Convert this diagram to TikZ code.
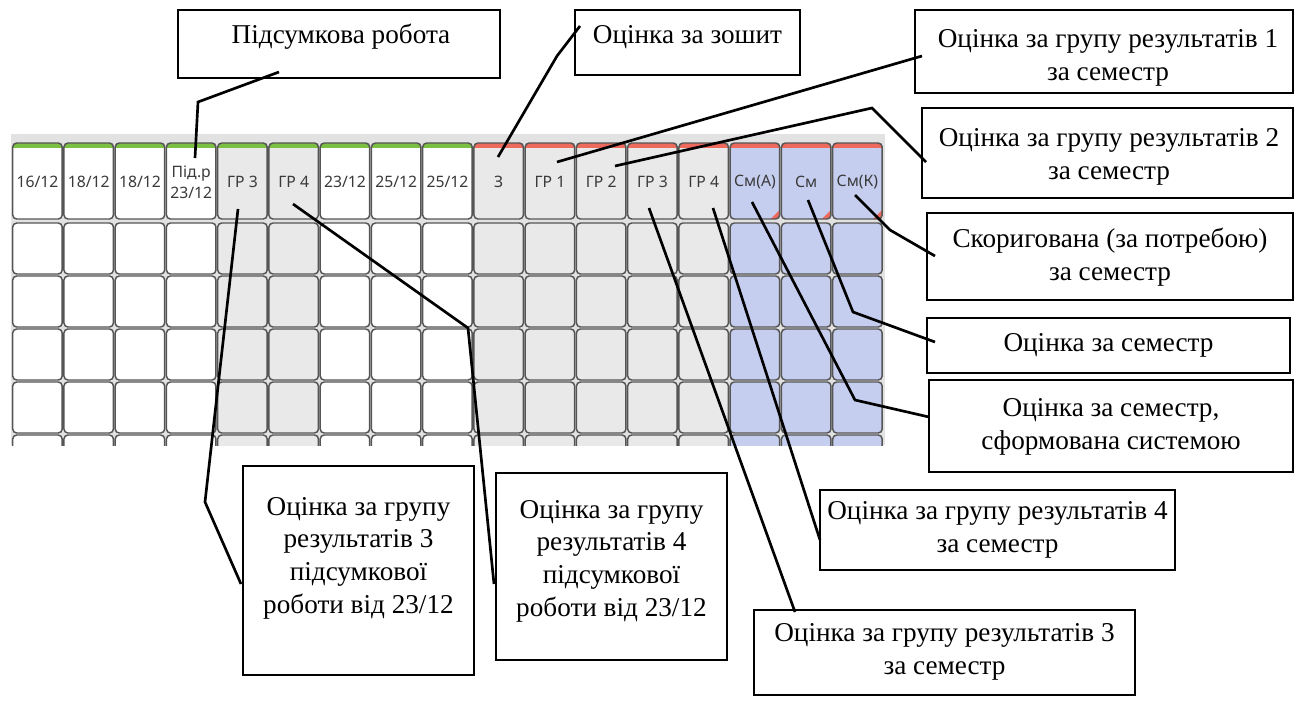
\documentclass[tikz,border=0pt]{standalone}
\usepackage{fontspec}
\setmainfont{Liberation Serif}
\newfontfamily\gridfont{Noto Sans}
\definecolor{gridbg}{HTML}{E2E2E2}
\definecolor{cellgray}{HTML}{E9E9E9}
\definecolor{cellblue}{HTML}{C6CEF0}
\definecolor{bargreen}{HTML}{7CC043}
\definecolor{barred}{HTML}{EE6A5C}
\definecolor{cellline}{HTML}{555555}
\definecolor{htxt}{HTML}{3A3A3A}
\begin{document}
\begin{tikzpicture}[x=0.75pt,y=-0.75pt,
  framebox/.style={draw=black, line width=2pt, fill=white, inner sep=0pt, rectangle},
  ctext/.style={font=\fontsize{20.4}{24.5}\selectfont, align=center, inner sep=0pt},
  leader/.style={draw=black, line width=2pt, line join=miter},
  htext/.style={font=\gridfont\fontsize{11.8}{16}\selectfont, text=htxt, align=center, inner sep=0pt},
  cellframe/.style={draw=cellline, line width=1.1pt, rounded corners=3pt}]
\useasboundingbox (0,0) rectangle (1296,700);

% ---------- grid ----------
\fill[gridbg] (11,134) rectangle (885,445);
\begin{scope}
\clip (11,134) rectangle (885,445);
\foreach \i/\fc/\bc/\ts in {1/white/bargreen/0,2/white/bargreen/0,3/white/bargreen/0,4/white/bargreen/0,
  5/cellgray/bargreen/0,6/cellgray/bargreen/0,7/white/bargreen/0,8/white/bargreen/0,9/white/bargreen/0,
  10/cellgray/barred/0,11/cellgray/barred/0,12/cellgray/barred/0,13/cellgray/barred/0,14/cellgray/barred/0,
  15/cellblue/barred/9,16/cellblue/barred/9,17/cellblue/barred/9}{
  \pgfmathsetmacro\xl{12.7+(\i-1)*51.25}
  \pgfmathsetmacro\xr{\xl+49.5}
  \begin{scope}
    \clip[rounded corners=3pt] (\xl,143) rectangle (\xr,219);
    \fill[\fc] (\xl,143) rectangle (\xr,219);
    \fill[\bc] (\xl,143) rectangle (\xr,147.5);
    \fill[barred] (\xr-\ts,219) -- (\xr,219) -- (\xr,219-\ts) -- cycle;
  \end{scope}
  \draw[cellframe] (\xl,143) rectangle (\xr,219);
  \foreach \k in {0,...,4}{
    \pgfmathsetmacro\yt{223+53*\k}
    \draw[cellframe, fill=\fc] (\xl,\yt) rectangle (\xr,\yt+51);
  }
}
\end{scope}

% ---------- header texts ----------
\node[htext] (h1)  at (37.45,182)  {16/12};
\node[htext] (h2)  at (88.7,182)   {18/12};
\node[htext] (h3)  at (139.95,182) {18/12};
\node[htext] (h4)  at (191.2,182.5){Під.р\\23/12};
\node[htext] (h5)  at (242.45,182) {ГР 3};
\node[htext] (h6)  at (293.7,182)  {ГР 4};
\node[htext] (h7)  at (344.95,182) {23/12};
\node[htext] (h8)  at (396.2,182)  {25/12};
\node[htext] (h9)  at (447.45,182) {25/12};
\node[htext] (h10) at (498.7,182)  {З};
\node[htext] (h11) at (549.95,182) {ГР 1};
\node[htext] (h12) at (601.2,182)  {ГР 2};
\node[htext] (h13) at (652.45,182) {ГР 3};
\node[htext] (h14) at (703.7,182)  {ГР 4};
\node[htext] (h15) at (754.95,182) {См(А)};
\node[htext] (h16) at (806.2,182)  {См};
\node[htext] (h17) at (857.45,182) {См(К)};

% ---------- callout frames ----------
\node[framebox, minimum width=241.5pt, minimum height=51pt]   (b1)  at (339,44)     {};
\node[framebox, minimum width=168.75pt, minimum height=48.75pt] (b2) at (687.5,42.5) {};
\node[framebox, minimum width=283.5pt, minimum height=62.25pt] (b3)  at (1104,51.5)  {};
\node[framebox, minimum width=278.25pt, minimum height=67.5pt] (b4)  at (1107.5,153) {};
\node[framebox, minimum width=274.5pt, minimum height=65.25pt] (b5)  at (1110,256.5) {};
\node[framebox, minimum width=272.25pt, minimum height=41.25pt] (b6) at (1108.5,345.5){};
\node[framebox, minimum width=273pt, minimum height=69pt]      (b7)  at (1111,426)   {};
\node[framebox, minimum width=266.25pt, minimum height=60pt]   (b8)  at (997.5,530)  {};
\node[framebox, minimum width=285.75pt, minimum height=63.75pt] (b9) at (944.5,652.5){};
\node[framebox, minimum width=173.25pt, minimum height=156.75pt] (b10) at (358.5,570.5){};
\node[framebox, minimum width=173.25pt, minimum height=140.25pt] (b11) at (611.5,566.5){};

% ---------- callout texts ----------
\node[ctext] (t1)  at (341,37)    {Підсумкова робота};
\node[ctext] (t2)  at (687.5,37)  {Оцінка за зошит};
\node[ctext] (t3)  at (1108,58)   {Оцінка за групу результатів 1\\за семестр};
\node[ctext] (t4)  at (1109,157)  {Оцінка за групу результатів 2\\за семестр};
\node[ctext] (t5)  at (1110,257)  {Скоригована (за потребою)\\за семестр};
\node[ctext] (t6)  at (1108.5,345){Оцінка за семестр};
\node[ctext] (t7)  at (1111,427)  {Оцінка за семестр,\\сформована системою};
\node[ctext] (t8)  at (997.5,530) {Оцінка за групу результатів 4\\за семестр};
\node[ctext] (t9)  at (944.5,652) {Оцінка за групу результатів 3\\за семестр};
\node[ctext] (t10) at (358.5,558) {Оцінка за групу\\результатів 3\\підсумкової\\роботи від 23/12};
\node[ctext] (t11) at (611.5,561) {Оцінка за групу\\результатів 4\\підсумкової\\роботи від 23/12};

% ---------- connector points ----------
\coordinate (p1a) at (279,72);  \coordinate (p1b) at (198,102); \coordinate (p1c) at (195,158);
\coordinate (p2a) at (580,26);  \coordinate (p2b) at (557,56);  \coordinate (p2c) at (498,157);
\coordinate (p3a) at (922,56);  \coordinate (p3c) at (557,162);
\coordinate (p4a) at (926,162); \coordinate (p4b) at (872,108); \coordinate (p4c) at (615,166);
\coordinate (p5a) at (935,256); \coordinate (p5b) at (890,230); \coordinate (p5c) at (855,195);
\coordinate (p6a) at (935,342); \coordinate (p6b) at (853,312); \coordinate (p6c) at (808,200);
\coordinate (p7a) at (929,417); \coordinate (p7b) at (855,400); \coordinate (p7c) at (752,202);
\coordinate (p8a) at (820,540); \coordinate (p8c) at (713,208);
\coordinate (p9a) at (795,612); \coordinate (p9c) at (649,208);
\coordinate (p10a) at (241,584); \coordinate (p10b) at (205,502); \coordinate (p10c) at (238,209);
\coordinate (p11a) at (494,584); \coordinate (p11b) at (468,328); \coordinate (p11c) at (293,204);

% ---------- connectors ----------
\draw[leader] (p1a) -- (p1b) -- (p1c);
\draw[leader] (p2a) -- (p2b) -- (p2c);
\draw[leader] (p3a) -- (p3c);
\draw[leader] (p4a) -- (p4b) -- (p4c);
\draw[leader] (p5a) -- (p5b) -- (p5c);
\draw[leader] (p6a) -- (p6b) -- (p6c);
\draw[leader] (p7a) -- (p7b) -- (p7c);
\draw[leader] (p8a) -- (p8c);
\draw[leader] (p9a) -- (p9c);
\draw[leader] (p10a) -- (p10b) -- (p10c);
\draw[leader] (p11a) -- (p11b) -- (p11c);
\end{tikzpicture}
\end{document}
